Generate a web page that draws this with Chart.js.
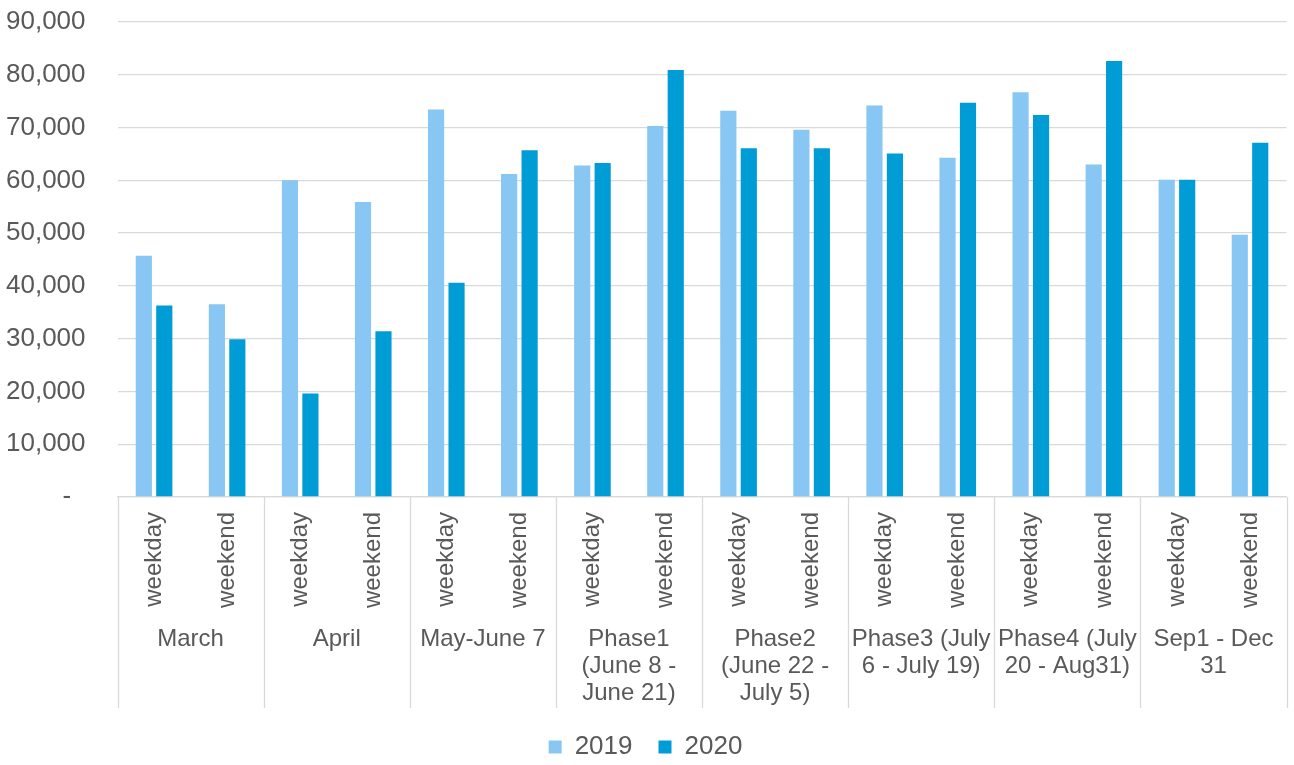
<!DOCTYPE html>
<html>
<head>
<meta charset="utf-8">
<script src="https://cdn.jsdelivr.net/npm/chart.js@4"></script>
<style>
  html, body { margin: 0; padding: 0; background: #fff; }
  #wrap { width: 1294px; height: 765px; }
</style>
</head>
<body>
<div id="wrap"><canvas id="chart"></canvas></div>
<script>
const groups = [
    ['March'],
    ['April'],
    ['May-June 7'],
    ['Phase1', '(June 8 -', 'June 21)'],
    ['Phase2', '(June 22 -', 'July 5)'],
    ['Phase3 (July', '6 - July 19)'],
    ['Phase4 (July', '20 - Aug31)'],
    ['Sep1 - Dec', '31']
];
const dayTypes = ['weekday', 'weekend'];
const values2019 = [45700, 36500, 60000, 55900, 73400, 61200, 62800, 70300, 73200, 69600, 74200, 64300, 76700, 63000, 60100, 49700];
const values2020 = [36300, 29900, 19600, 31400, 40600, 65700, 63300, 80900, 66100, 66100, 65100, 74700, 72400, 82600, 60100, 67100];

const TEXT = '#595959';
const GRID = '#d9d9d9';
const FONT = '"Liberation Sans", Arial, sans-serif';

const labels = groups.flatMap(() => dayTypes);

// vertical separators between the groups, under the axis
const groupLines = {
    id: 'groupLines',
    afterDraw(chart) {
        const x = chart.scales.x, x2 = chart.scales.x2;
        const ctx = chart.ctx;
        ctx.save();
        ctx.strokeStyle = GRID;
        ctx.lineWidth = 1.3;
        for (let i = 0; i <= groups.length; i++) {
            const px = Math.round(x.getPixelForValue(i * dayTypes.length - 0.5)) + 0.5;
            ctx.beginPath();
            ctx.moveTo(px, x.top);
            ctx.lineTo(px, x2.bottom);
            ctx.stroke();
        }
        ctx.restore();
    }
};

new Chart(document.getElementById('chart'), {
    type: 'bar',
    data: {
        labels,
        datasets: [
            { label: '2019', data: values2019, backgroundColor: '#88c6f3' },
            { label: '2020', data: values2020, backgroundColor: '#009cd6' }
        ]
    },
    options: {
        responsive: true,
        maintainAspectRatio: false,
        animation: false,
        layout: { padding: { top: 22, right: 6, left: 3, bottom: -5 } },
        datasets: { bar: { categoryPercentage: 0.56, barPercentage: 0.79 } },
        scales: {
            y: {
                min: 0,
                max: 90000,
                ticks: {
                    stepSize: 10000,
                    padding: 3,
                    color: TEXT,
                    font: { family: FONT, size: 26 },
                    callback: v => v === 0 ? '-  ' : v.toLocaleString('en-US')
                },
                grid: { color: GRID, lineWidth: 1.3, drawTicks: true, tickLength: 29, tickColor: 'rgba(0,0,0,0)' },
                border: { display: false }
            },
            x: {
                offset: true,
                afterFit: s => { s.height = 112; },
                ticks: {
                    autoSkip: false,
                    minRotation: 90,
                    maxRotation: 90,
                    padding: 15,
                    color: TEXT,
                    font: { family: FONT, size: 24 }
                },
                grid: { display: false, drawTicks: false },
                border: { display: true, color: GRID, width: 1.3 }
            },
            x2: {
                type: 'category',
                position: 'bottom',
                labels: groups,
                offset: true,
                afterFit: s => { s.height = 99; },
                ticks: {
                    autoSkip: false,
                    maxRotation: 0,
                    padding: 17,
                    color: TEXT,
                    font: { family: FONT, size: 24, lineHeight: 1.125 }
                },
                grid: { display: false, drawTicks: false },
                border: { display: false }
            }
        },
        plugins: {
            legend: {
                position: 'bottom',
                labels: {
                    boxWidth: 13,
                    boxHeight: 13,
                    padding: 26,
                    color: TEXT,
                    font: { family: FONT, size: 26 }
                }
            },
            tooltip: { enabled: false }
        }
    },
    plugins: [groupLines]
});
</script>
</body>
</html>
